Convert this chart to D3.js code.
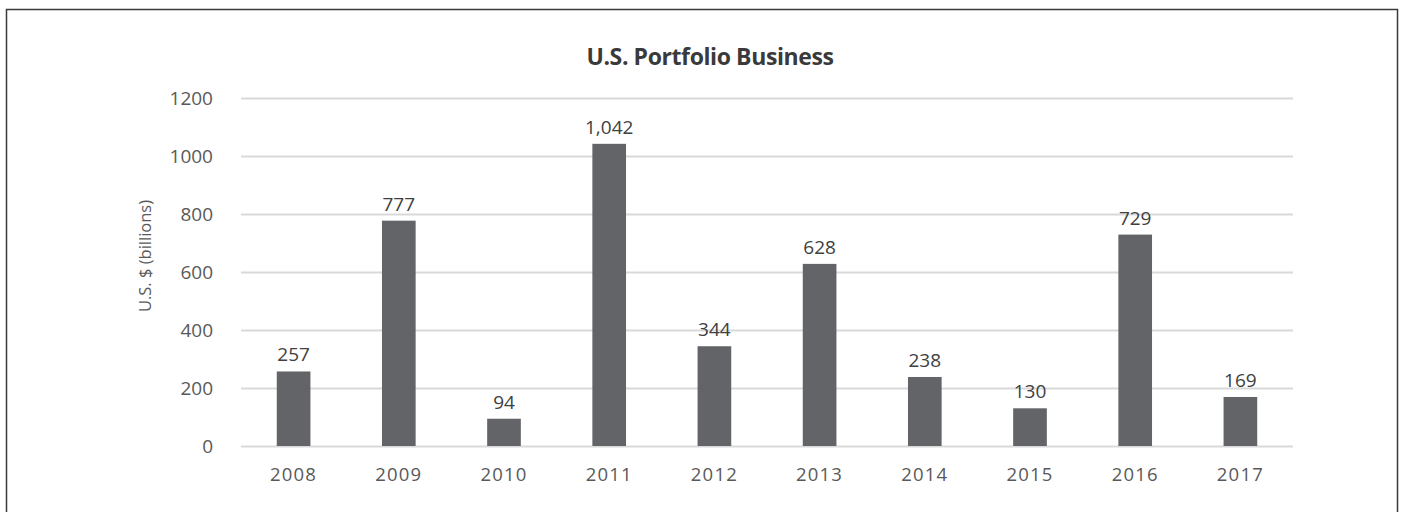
<!DOCTYPE html>
<html>
<head>
<meta charset="utf-8">
<script src="https://cdn.jsdelivr.net/npm/d3@7"></script>
<style>
  body { margin: 0; background: #fff; }
  svg { display: block; }
</style>
</head>
<body>
<div id="chart"></div>
<script>
var years = ["2008", "2009", "2010", "2011", "2012", "2013", "2014", "2015", "2016", "2017"];
var values = [257, 777, 94, 1042, 344, 628, 238, 130, 729, 169];
var yTicks = [0, 200, 400, 600, 800, 1000, 1200];

const width = 1403, height = 512;
const margin = ({ top: 98, right: 110, bottom: 66, left: 241 });

var svg = d3.select("#chart").append("svg")
    .attr("width", width)
    .attr("height", height);

// outer frame
svg.append("rect")
    .attr("x", 6.5).attr("y", 9.5)
    .attr("width", 1391).attr("height", 520)
    .attr("fill", "none")
    .attr("stroke", "#3a3a3a")
    .attr("stroke-width", 1.5);

var x = d3.scaleBand()
    .domain(years)
    .range([margin.left, width - margin.right])
    .paddingInner(0.68)
    .paddingOuter(0.34);

var y = d3.scaleLinear()
    .domain([0, 1200])
    .range([height - margin.bottom, margin.top]);

// gridlines + y tick labels
var yAxis = d3.axisLeft(y)
    .tickValues(yTicks)
    .tickSize(-(width - margin.right - margin.left))
    .tickPadding(28)
    .tickFormat(d3.format("d"));

var gy = svg.append("g")
    .attr("transform", `translate(${margin.left},0)`)
    .call(yAxis);
gy.select(".domain").remove();
gy.selectAll(".tick line").attr("stroke", "#d9d9d9").attr("stroke-width", 2);
gy.selectAll(".tick text")
    .attr("fill", "#595959")
    .style("font-family", "'Open Sans', sans-serif")
    .style("font-size", "19px");

// x axis labels
var xAxis = d3.axisBottom(x).tickSize(0).tickPadding(22);
var gx = svg.append("g")
    .attr("transform", `translate(0,${height - margin.bottom})`)
    .call(xAxis);
gx.select(".domain").remove();
gx.selectAll(".tick text")
    .attr("fill", "#595959")
    .style("font-family", "'Open Sans', sans-serif")
    .style("font-size", "18.5px")
    .style("letter-spacing", "1.2px");

// bars
svg.selectAll("rect.bar")
    .data(values)
    .enter()
    .append("rect")
    .classed("bar", true)
    .attr("x", (d, i) => x(years[i]))
    .attr("width", x.bandwidth())
    .attr("y", d => y(d))
    .attr("height", d => y(0) - y(d))
    .attr("fill", "#636467");

// value labels
svg.selectAll("text.val")
    .data(values)
    .enter()
    .append("text")
    .classed("val", true)
    .attr("x", (d, i) => x(years[i]) + x.bandwidth() / 2)
    .attr("y", d => y(d) - 10)
    .attr("text-anchor", "middle")
    .attr("fill", "#404040")
    .style("font-family", "'Open Sans', sans-serif")
    .style("font-size", "19px")
    .text(d => d3.format(",")(d));

// axis title
svg.append("text")
    .attr("transform", "translate(151,256) rotate(-90)")
    .attr("text-anchor", "middle")
    .attr("fill", "#595959")
    .style("font-family", "'Open Sans', sans-serif")
    .style("font-size", "16.5px")
    .text("U.S. $ (billions)");

// chart title
svg.append("text")
    .attr("x", 710)
    .attr("y", 65)
    .attr("text-anchor", "middle")
    .attr("fill", "#3a3a3a")
    .style("font-family", "'Open Sans', sans-serif")
    .style("font-weight", "700")
    .style("font-size", "23px")
    .style("letter-spacing", "-0.4px")
    .text("U.S. Portfolio Business");
</script>
</body>
</html>
